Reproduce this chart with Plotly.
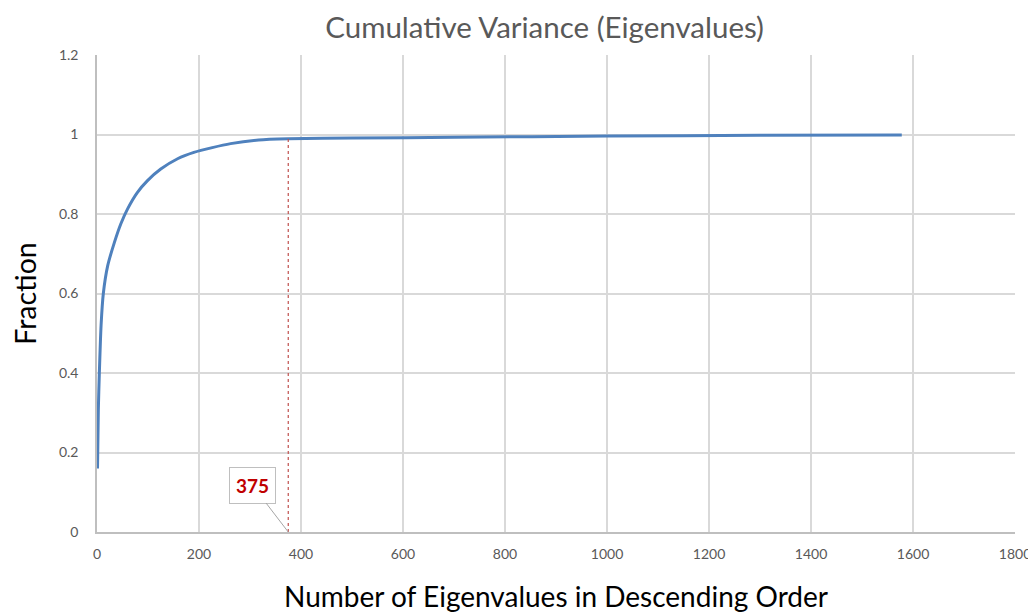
import plotly.graph_objects as go

# Data
n_eigen = [1, 2.6, 4.6, 8, 12.4, 21, 34, 47, 60, 79, 99, 125, 158, 190, 226, 262, 317, 375,
           500, 700, 1000, 1300, 1578]
fraction = [0.160, 0.307, 0.400, 0.520, 0.600, 0.670, 0.728, 0.776, 0.813, 0.854, 0.884, 0.913,
            0.939, 0.955, 0.967, 0.977, 0.986, 0.989, 0.991, 0.993, 0.996, 0.998, 0.999]
cutoff_x = [375, 375]
cutoff_y = [0, 0.99]
cutoff_label = "375"

x_ticks = [0, 200, 400, 600, 800, 1000, 1200, 1400, 1600, 1800]
y_ticks = [0, 0.2, 0.4, 0.6, 0.8, 1, 1.2]

FONT = "Lato, 'Open Sans', sans-serif"
GRAY = "#595959"

fig = go.Figure()
fig.add_trace(go.Scatter(x=n_eigen, y=fraction, mode="lines",
                         line=dict(color="#4F81BD", width=3, shape="spline", smoothing=0.7),
                         showlegend=False, hoverinfo="skip"))
fig.add_trace(go.Scatter(x=cutoff_x, y=cutoff_y, mode="lines",
                         line=dict(color="#C0504D", width=1.2, dash="dot"),
                         showlegend=False, hoverinfo="skip"))

fig.add_annotation(x=cutoff_x[0], y=0, xref="x", yref="y", text="<b>" + cutoff_label + "</b>",
                   showarrow=True, arrowhead=0, arrowwidth=1, arrowcolor="#A6A6A6",
                   ax=-36, ay=-47, bordercolor="#BFBFBF", borderwidth=1, borderpad=6,
                   bgcolor="white", font=dict(family=FONT, size=19, color="#C00000"))

# The page body has an 8px margin, so the figure is sized/offset to compensate
fig.update_layout(
    width=1028, height=605,
    margin=dict(l=89, r=21, t=47, b=81),
    paper_bgcolor="white", plot_bgcolor="white",
    title=dict(text="Cumulative Variance (Eigenvalues)", x=0.522, xanchor="center",
               y=0.967, yanchor="middle",
               font=dict(family=FONT, size=29.5, color=GRAY)),
    xaxis=dict(range=[0, 1800], tickvals=x_ticks, showgrid=True, gridcolor="#D9D9D9", gridwidth=1.5,
               showline=True, linecolor="#BFBFBF", linewidth=1.5, zeroline=False, ticks="",
               automargin=False, ticklabelstandoff=8,
               tickfont=dict(family=FONT, size=14, color=GRAY),
               title=dict(text="Number of Eigenvalues in Descending Order", standoff=33,
                          font=dict(family=FONT, size=28, color="black"))),
    yaxis=dict(range=[0, 1.2], tickvals=y_ticks, showgrid=True, gridcolor="#D9D9D9", gridwidth=1.5,
               showline=True, linecolor="#BFBFBF", linewidth=1.5, zeroline=False, ticks="",
               automargin=False, ticklabelstandoff=14,
               tickfont=dict(family=FONT, size=14, color=GRAY),
               title=dict(text="Fraction", standoff=20,
                          font=dict(family=FONT, size=28.5, color="black"))),
)

fig.write_html("out.html")
